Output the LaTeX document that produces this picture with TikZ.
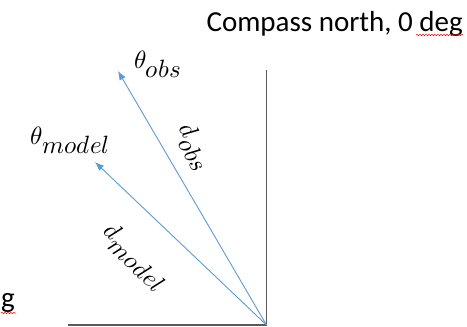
\documentclass[tikz,border=0pt]{standalone}
\usepackage{fontspec}
\usepackage{unicode-math}
\setmainfont{Carlito}
\setmathfont{Latin Modern Math}
\usetikzlibrary{arrows.meta,decorations.pathmorphing}
\definecolor{arrowblue}{RGB}{91,155,213}
\definecolor{axisgray}{RGB}{90,90,90}

\begin{document}
\begin{tikzpicture}[x=1pt, y=-1pt,
  axis/.style={draw=axisgray, line width=1.6pt},
  vec/.style={draw=arrowblue, line width=0.9pt, -{Latex[length=9pt,width=7pt]}},
  lbl/.style={font=\fontsize{25}{30}\selectfont, inner sep=0pt},
  squiggle/.style={red, line width=0.5pt, decorate, decoration={snake, amplitude=0.7pt, segment length=3pt}}]
  \useasboundingbox (0,0) rectangle (467,327);
  % axes
  \coordinate (origin) at (266.5,325);
  \coordinate (north) at (266.5,70);
  \coordinate (west) at (68,325);
  \draw[axis] (west) -- (origin) -- (north);
  % bearing vectors
  \coordinate (obstip) at (118,71);
  \coordinate (modeltip) at (95,162);
  \draw[vec] (origin) -- (obstip);
  \draw[vec] (origin) -- (modeltip);
  % labels
  \node[lbl] (thetaobs) at (158,64) {$\theta_{\textstyle obs}$};
  \node[lbl] (thetamodel) at (70,140) {$\theta_{\textstyle model}$};
  \node[lbl, rotate=-59.7] (dobs) at (194,147) {$d_{\textstyle obs}$};
  \node[lbl, rotate=-43.6] (dmodel) at (135,257) {$d_{\textstyle model}$};
  \node[font=\fontsize{29}{34}\selectfont, anchor=base east, inner sep=0pt] (northlabel) at (463,31) {Compass north, 0 deg};
  \node[font=\fontsize{29}{34}\selectfont, anchor=base west, inner sep=0pt] (westlabel) at (1,307) {g};
  % spell-check marks
  \draw[squiggle] (416,35) -- (463,35);
  \draw[squiggle] (1,313) -- (16,313);
\end{tikzpicture}
\end{document}
